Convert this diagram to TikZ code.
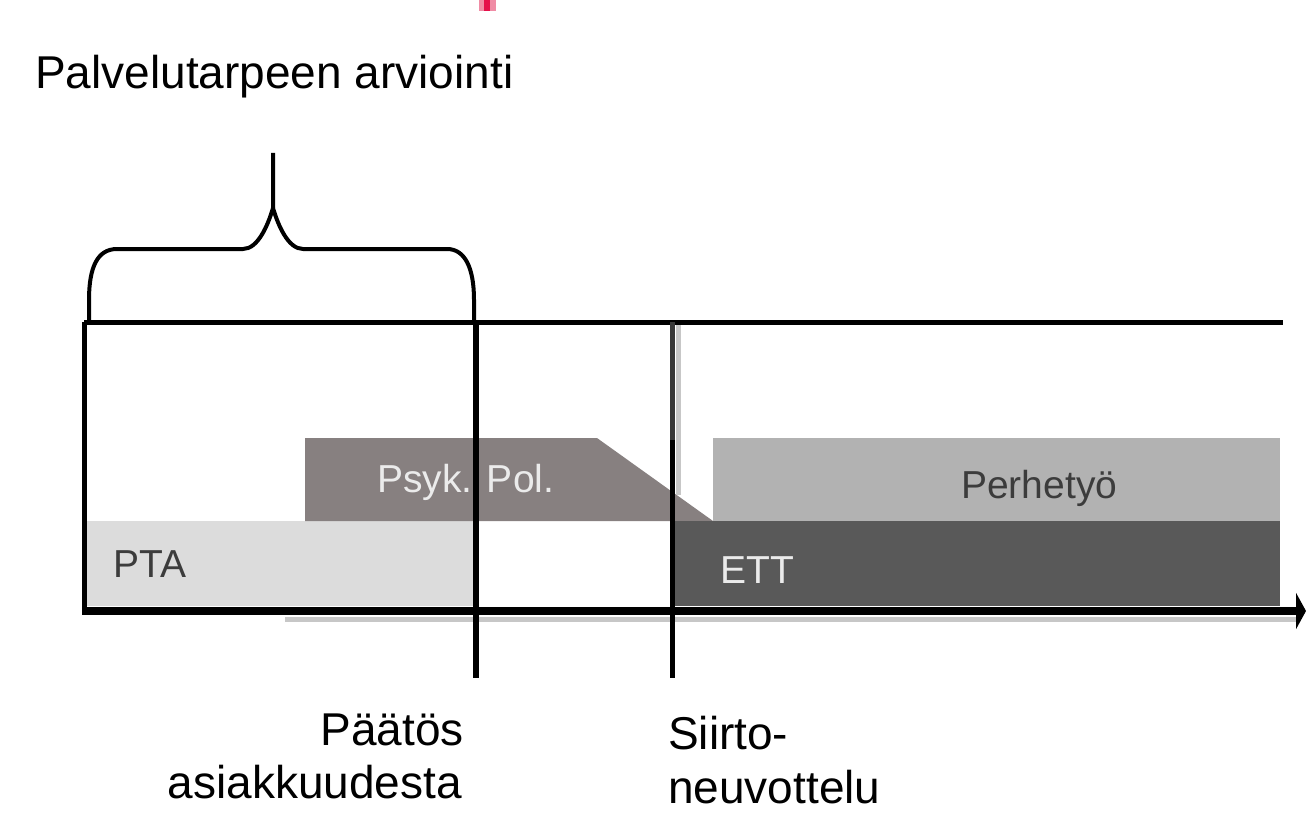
\documentclass[tikz,border=0pt]{standalone}
\usepackage{fontspec}
\setmainfont{Liberation Sans}
\usetikzlibrary{arrows.meta}
\definecolor{ptagray}{RGB}{220,220,220}
\definecolor{psykgray}{RGB}{135,128,128}
\definecolor{perhegray}{RGB}{178,178,178}
\definecolor{ettgray}{RGB}{89,89,89}
\definecolor{pinkmark}{RGB}{229,16,74}
\definecolor{pinklight}{RGB}{240,140,165}
\definecolor{darktext}{RGB}{60,60,60}
\definecolor{lighttext}{RGB}{235,235,235}
\begin{document}
\begin{tikzpicture}[x=1pt,y=-1pt,
  bigtext/.style={font=\fontsize{46}{55}\selectfont, inner sep=0pt},
  boxlabel/.style={font=\fontsize{39}{45}\selectfont, inner sep=0pt},
  frameline/.style={line width=5pt},
  braceline/.style={line width=4pt, line join=round},
  markline/.style={line width=6pt}]
\useasboundingbox (0,0) rectangle (1306,813);

% pink mark at top
\fill[pinklight] (479,0) rectangle (496,11);
\fill[pinkmark] (484,0) rectangle (490,11);

% title
\node[bigtext, anchor=base west] (title) at (35,89) {Palvelutarpeen arviointi};

% boxes
\fill[ptagray] (85,521) rectangle (476,606);
\fill[psykgray] (305,438) -- (597,438) -- (713,521) -- (305,521) -- cycle;
\fill[perhegray] (713,438) rectangle (1280,521);
\fill[ettgray] (672,521) rectangle (1280,606);

% labels in boxes
\node[boxlabel, text=darktext, anchor=base west] (pta) at (113,577) {PTA};
\node[boxlabel, text=lighttext, anchor=base west] (psyk) at (377,492) {Psyk. Pol.};
\node[boxlabel, text=darktext, anchor=base west] (perhe) at (961,498) {Perhetyö};
\node[boxlabel, text=lighttext, anchor=base west] (ett) at (720,583) {ETT};

% frame
\draw[frameline] (84,322) -- (1283,322);
\draw[frameline] (84,322) -- (84,613);
% shadow under axis
\draw[line width=5pt, black!22] (285,619) -- (1296,619);
% axis
\draw[line width=8pt, -{Triangle[length=10pt,width=36pt]}] (82,611) -- (1306,611);

% vertical markers
\draw[line width=5pt, black!22] (678,325) -- (678,495);
\draw[markline] (476,322) -- (476,678);
\draw[line width=5pt, black!78] (672,322) -- (672,440);
\draw[line width=5pt] (672,440) -- (672,678);

% brace
\draw[braceline] (89,322) -- (89,300) .. controls (89,268) and (97,249) .. (117,249)
  -- (243,249) .. controls (258,249) and (268,225) .. (273,208) -- (273,153);
\draw[braceline] (273,208) .. controls (278,225) and (288,249) .. (303,249)
  -- (447,249) .. controls (465,249) and (474,268) .. (474,300) -- (474,322);

% bottom labels
\node[bigtext, anchor=base east] (paatos1) at (464,745) {Päätös};
\node[bigtext, anchor=base east] (paatos2) at (462,798) {asiakkuudesta};
\node[bigtext, anchor=base west] (siirto1) at (668,749) {Siirto-};
\node[bigtext, anchor=base west] (siirto2) at (668,803) {neuvottelu};
\end{tikzpicture}
\end{document}
